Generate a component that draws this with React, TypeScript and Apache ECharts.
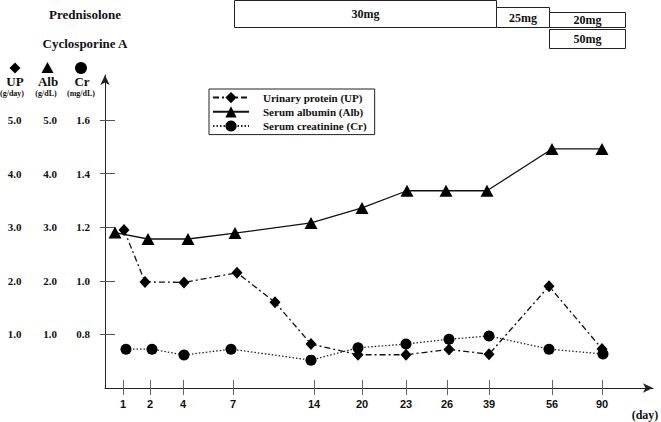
import React, { useEffect, useRef } from "react";
import * as echarts from "echarts";

// x positions are in the figure's own (non-linear) day scale units
const dayLabels = ["1", "2", "4", "7", "14", "20", "23", "26", "39", "56", "90"];
const dayPos = [18, 45, 78, 128, 209, 257, 301, 342, 384, 447, 497];

const upTicks = [1, 2, 3, 4, 5];
const crTicks = [0.8, 1.0, 1.2, 1.4, 1.6];

const upPos = [19, 40, 79, 132, 170, 206, 253, 301, 344, 384, 444, 497];
const upVal = [2.95, 1.98, 1.97, 2.15, 1.6, 0.82, 0.62, 0.62, 0.72, 0.63, 1.9, 0.73];

const albPos = [10, 43, 83, 130, 206, 257, 302, 341, 382, 447, 497];
const albVal = [2.9, 2.78, 2.78, 2.89, 3.08, 3.36, 3.68, 3.68, 3.68, 4.46, 4.46];

const crPos = [21, 47, 79, 126, 206, 253, 301, 344, 384, 444, 498];
const crVal = [0.745, 0.745, 0.723, 0.745, 0.704, 0.75, 0.764, 0.782, 0.794, 0.745, 0.727];

const drugs = ["Prednisolone", "Cyclosporine A"];
const doseLabels = ["30mg", "25mg", "20mg", "50mg"];
const doseRow = [0, 0, 0, 1];
const doseStart = [129, 391, 444, 444];
const doseEnd = [391, 444, 520, 520];

const serif = '"Liberation Serif", "Times New Roman", serif';
const sans = '"Liberation Sans", Arial, sans-serif';

export default function App() {
  const ref = useRef<HTMLDivElement>(null);
  useEffect(() => {
    if (!ref.current) return;
    const chart = echarts.init(ref.current, null, { renderer: "svg" });
    const boxInsets = [
      [0, 2],
      [7, 2],
      [12, 2],
      [0, 10],
    ];
    const option: any = {
      animation: false,
      backgroundColor: "#fff",
      grid: [
        { left: 105, right: 8, top: 75, bottom: 34 },
        { left: 105, right: 8, top: 0, height: 58 },
      ],
      legend: {
        data: ["Urinary protein (UP)", "Serum albumin (Alb)", "Serum creatinine (Cr)"],
        orient: "vertical",
        left: 209,
        top: 89,
        padding: [3, 8, 3, 3],
        borderColor: "#222",
        borderWidth: 1,
        itemWidth: 36,
        itemHeight: 14,
        itemGap: 3,
        textStyle: {
          fontFamily: serif,
          fontWeight: "bold",
          fontSize: 11,
          color: "#111",
          padding: [0, 0, 0, 9],
        },
      },
      xAxis: [
        {
          type: "value",
          gridIndex: 0,
          min: 0,
          max: 548,
          position: "bottom",
          axisLine: {
            show: true,
            symbol: ["none", "arrow"],
            symbolSize: [7, 10],
            lineStyle: { color: "#222", width: 1 },
          },
          axisTick: {
            show: true,
            inside: false,
            length: 7,
            customValues: dayPos,
            lineStyle: { color: "#666" },
          },
          axisLabel: {
            show: true,
            customValues: dayPos,
            margin: 10,
            formatter: (v: number) => {
              const i = dayPos.indexOf(v);
              return i >= 0 ? dayLabels[i] : "";
            },
            fontFamily: sans,
            fontWeight: "bold",
            fontSize: 11,
            color: "#111",
          },
          splitLine: { show: false },
        },
        {
          type: "value",
          gridIndex: 0,
          min: 0,
          max: 548,
          position: "bottom",
          axisLine: { show: false },
          axisTick: {
            show: true,
            inside: true,
            length: 8,
            customValues: dayPos,
            lineStyle: { color: "#666" },
          },
          axisLabel: { show: false },
          splitLine: { show: false },
        },
        {
          type: "value",
          gridIndex: 1,
          min: 0,
          max: 548,
          show: false,
        },
      ],
      yAxis: [
        {
          type: "value",
          gridIndex: 0,
          min: 0,
          max: 5.84,
          position: "left",
          axisLine: {
            show: true,
            symbol: ["none", "arrow"],
            symbolSize: [7, 10],
            lineStyle: { color: "#222", width: 1 },
          },
          axisTick: {
            show: true,
            inside: true,
            length: 10,
            customValues: upTicks,
            lineStyle: { color: "#555" },
          },
          axisLabel: {
            show: true,
            customValues: upTicks,
            margin: 34,
            formatter: (v: number) => `{a|${v.toFixed(1)}}{b|${v.toFixed(1)}}`,
            rich: {
              a: { width: 29, align: "center", fontFamily: serif, fontWeight: "bold", fontSize: 11, color: "#111" },
              b: { width: 42, align: "center", fontFamily: serif, fontWeight: "bold", fontSize: 11, color: "#111" },
            },
          },
          splitLine: { show: false },
        },
        {
          type: "value",
          gridIndex: 0,
          min: 0.6,
          max: 0.6 + 5.84 * 0.2,
          position: "left",
          axisLine: { show: false },
          axisTick: {
            show: true,
            inside: false,
            length: 5,
            customValues: crTicks,
            lineStyle: { color: "#555" },
          },
          axisLabel: {
            show: true,
            customValues: crTicks,
            margin: 10,
            formatter: (v: number) => `{c|${v.toFixed(1)}}`,
            rich: {
              c: { width: 24, align: "center", fontFamily: serif, fontWeight: "bold", fontSize: 11, color: "#111" },
            },
          },
          splitLine: { show: false },
        },
        {
          type: "category",
          gridIndex: 1,
          data: drugs,
          inverse: true,
          axisLine: { show: false },
          axisTick: { show: false },
          axisLabel: {
            show: true,
            align: "center",
            margin: 20,
            fontFamily: serif,
            fontWeight: "bold",
            fontSize: 13,
            color: "#111",
          },
          splitLine: { show: false },
        },
      ],
      series: [
        {
          name: "Serum creatinine (Cr)",
          type: "line",
          xAxisIndex: 0,
          yAxisIndex: 1,
          data: crPos.map((p, i) => [p, crVal[i]]),
          symbol: "circle",
          symbolSize: 11,
          itemStyle: { color: "#000" },
          lineStyle: { color: "#222", width: 1.3, type: [1.5, 2] },
          clip: false,
        },
        {
          name: "Serum albumin (Alb)",
          type: "line",
          xAxisIndex: 0,
          yAxisIndex: 0,
          data: albPos.map((p, i) => [p, albVal[i]]),
          symbol: "triangle",
          symbolSize: [13, 12],
          itemStyle: { color: "#000" },
          lineStyle: { color: "#111", width: 1.3, type: "solid" },
          clip: false,
        },
        {
          name: "Urinary protein (UP)",
          type: "line",
          xAxisIndex: 0,
          yAxisIndex: 0,
          data: upPos.map((p, i) => [p, upVal[i]]),
          symbol: "diamond",
          symbolSize: [11, 12],
          itemStyle: { color: "#000" },
          lineStyle: { color: "#111", width: 1.3, type: [6, 3, 2, 3] },
          clip: false,
        },
        {
          name: "dose",
          type: "custom",
          xAxisIndex: 2,
          yAxisIndex: 2,
          silent: true,
          data: doseStart.map((s, i) => [s, doseEnd[i], doseRow[i]]),
          encode: { x: [0, 1], y: 2 },
          renderItem: (params: any, api: any) => {
            const i = params.dataIndex;
            const row = api.value(2);
            const p0 = api.coord([api.value(0), row]);
            const p1 = api.coord([api.value(1), row]);
            const band = api.size([0, 1])[1];
            const top = p0[1] - band / 2 + boxInsets[i][0] + 0.5;
            const bottom = p0[1] + band / 2 - boxInsets[i][1] + 0.5;
            const x0 = Math.round(p0[0]) + 0.5;
            const x1 = Math.round(p1[0]) + 0.5;
            return {
              type: "group",
              children: [
                {
                  type: "rect",
                  shape: { x: x0, y: top, width: x1 - x0, height: bottom - top },
                  style: { fill: "#fff", stroke: "#222", lineWidth: 1 },
                },
                {
                  type: "text",
                  style: {
                    text: doseLabels[i],
                    x: (x0 + x1) / 2,
                    y: (top + bottom) / 2,
                    align: "center",
                    verticalAlign: "middle",
                    font: `bold 12px ${serif}`,
                    fill: "#111",
                  },
                },
              ],
            };
          },
        },
      ],
      graphic: [
        { type: "polygon", shape: { points: [[15, 62.5], [20.5, 68], [15, 73.5], [9.5, 68]] }, style: { fill: "#000" } },
        { type: "polygon", shape: { points: [[47.5, 62], [53.5, 73], [41.5, 73]] }, style: { fill: "#000" } },
        { type: "circle", shape: { cx: 81, cy: 68, r: 6 }, style: { fill: "#000" } },
        { type: "text", style: { text: "UP", x: 15, y: 81, align: "center", verticalAlign: "middle", font: `bold 13px ${serif}`, fill: "#111" } },
        { type: "text", style: { text: "Alb", x: 48, y: 81, align: "center", verticalAlign: "middle", font: `bold 13px ${serif}`, fill: "#111" } },
        { type: "text", style: { text: "Cr", x: 82, y: 81, align: "center", verticalAlign: "middle", font: `bold 13px ${serif}`, fill: "#111" } },
        { type: "text", style: { text: "(g/day)", x: 12, y: 93, align: "center", verticalAlign: "middle", font: `bold 8px ${serif}`, fill: "#111" } },
        { type: "text", style: { text: "(g/dL)", x: 46, y: 93, align: "center", verticalAlign: "middle", font: `bold 8px ${serif}`, fill: "#111" } },
        { type: "text", style: { text: "(mg/dL)", x: 81, y: 93, align: "center", verticalAlign: "middle", font: `bold 8px ${serif}`, fill: "#111" } },
        { type: "text", style: { text: "(day)", x: 645, y: 415, align: "center", verticalAlign: "middle", font: `bold 12px ${serif}`, fill: "#111" } },
      ],
    };
    chart.setOption(option);
    return () => chart.dispose();
  }, []);
  return (
    <div
      ref={ref}
      style={{ position: "fixed", left: 0, top: 0, width: 661, height: 422, background: "#fff" }}
    />
  );
}
